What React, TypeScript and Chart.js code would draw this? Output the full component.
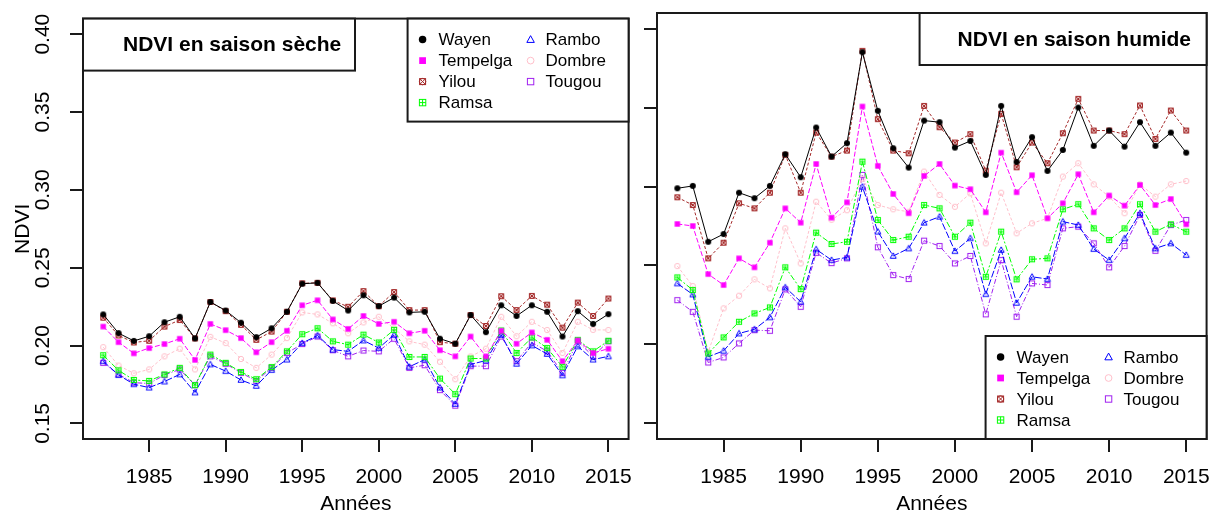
import React, { useEffect, useRef } from 'react';
import { Chart, registerables } from 'chart.js';

Chart.register(...registerables);

// ---------------- DATA ----------------
const YEARS = [1982, 1983, 1984, 1985, 1986, 1987, 1988, 1989, 1990, 1991, 1992, 1993, 1994, 1995, 1996, 1997, 1998, 1999,
  2000, 2001, 2002, 2003, 2004, 2005, 2006, 2007, 2008, 2009, 2010, 2011, 2012, 2013, 2014, 2015];
const X_TICKS = [1985, 1990, 1995, 2000, 2005, 2010, 2015];
const Y_TICKS = [0.15, 0.2, 0.25, 0.3, 0.35, 0.4];
const SITES = ['Wayen', 'Tempelga', 'Yilou', 'Ramsa', 'Rambo', 'Dombre', 'Tougou'];

// Saison sèche
const DRY_WAYEN = [0.220, 0.208, 0.203, 0.206, 0.215, 0.2185, 0.2046, 0.228, 0.2225, 0.2147, 0.2054, 0.2111, 0.2217, 0.2397, 0.2403, 0.2287, 0.2225, 0.2323,
  0.2253, 0.2308, 0.2213, 0.2217, 0.2044, 0.2012, 0.2196, 0.2086, 0.2259, 0.219, 0.2259, 0.2217, 0.2058, 0.2221, 0.2139, 0.2202];
const DRY_TEMPELGA = [0.2122, 0.2022, 0.195, 0.1984, 0.201, 0.2044, 0.1908, 0.2139, 0.2099, 0.2048, 0.1957, 0.2022, 0.2095, 0.2259, 0.2291, 0.2168, 0.2107, 0.219,
  0.2139, 0.2153, 0.2079, 0.2095, 0.197, 0.1931, 0.2058, 0.1931, 0.2095, 0.2012, 0.2084, 0.2037, 0.19, 0.2033, 0.1952, 0.198];
const DRY_YILOU = [0.2179, 0.2065, 0.202, 0.2031, 0.2122, 0.2164, 0.2046, 0.228, 0.2221, 0.2133, 0.2037, 0.209, 0.2217, 0.240, 0.2403, 0.229, 0.2249, 0.235,
  0.2253, 0.2344, 0.2228, 0.2228, 0.2022, 0.2012, 0.2196, 0.2126, 0.2317, 0.2228, 0.2319, 0.2263, 0.2115, 0.2276, 0.219, 0.2302];
const DRY_RAMSA = [0.1938, 0.1841, 0.1779, 0.1773, 0.1815, 0.1857, 0.1746, 0.1942, 0.1889, 0.183, 0.1784, 0.1862, 0.1963, 0.2073, 0.2111, 0.2027, 0.2006, 0.207,
  0.202, 0.2101, 0.1927, 0.1927, 0.1788, 0.1688, 0.1917, 0.1917, 0.2097, 0.1952, 0.2052, 0.1984, 0.1864, 0.2037, 0.1963, 0.2031];
const DRY_RAMBO = [0.19, 0.1811, 0.1752, 0.173, 0.1769, 0.1815, 0.1699, 0.1879, 0.1836, 0.1779, 0.1741, 0.1843, 0.191, 0.2016, 0.2065, 0.1974, 0.1963, 0.2033,
  0.1984, 0.2069, 0.1864, 0.191, 0.173, 0.1625, 0.1879, 0.1904, 0.2069, 0.1883, 0.2001, 0.1946, 0.1809, 0.1995, 0.191, 0.1931];
const DRY_DOMBRE = [0.199, 0.1872, 0.1822, 0.1847, 0.1931, 0.198, 0.1847, 0.2056, 0.2016, 0.1914, 0.1857, 0.1942, 0.2048, 0.2213, 0.22, 0.2143, 0.2079, 0.2149,
  0.2185, 0.2111, 0.2027, 0.2006, 0.1896, 0.1784, 0.193, 0.198, 0.2185, 0.206, 0.2153, 0.21, 0.1952, 0.2153, 0.2101, 0.21];
const DRY_TOUGOU = [0.1889, 0.1815, 0.1762, 0.1756, 0.1811, 0.1847, 0.1746, 0.1931, 0.1883, 0.1825, 0.1773, 0.1857, 0.1952, 0.201, 0.2058, 0.197, 0.1931, 0.1968,
  0.1963, 0.2044, 0.1857, 0.1874, 0.1714, 0.1614, 0.1868, 0.1868, 0.2058, 0.19, 0.202, 0.1963, 0.1825, 0.2027, 0.1931, 0.2027];

// Saison humide
const WET_WAYEN = [0.2989, 0.3004, 0.265, 0.2699, 0.2961, 0.2926, 0.3004, 0.3205, 0.3059, 0.3374, 0.319, 0.3275, 0.3852, 0.348, 0.3243, 0.312, 0.3418, 0.3408,
  0.3247, 0.3289, 0.3074, 0.3511, 0.3156, 0.3313, 0.3099, 0.3232, 0.3501, 0.3258, 0.3355, 0.3253, 0.3408, 0.3258, 0.3342, 0.3215];
const WET_TEMPELGA = [0.2763, 0.275, 0.2445, 0.2376, 0.2545, 0.2488, 0.2644, 0.2862, 0.2771, 0.3143, 0.2803, 0.29, 0.3507, 0.3131, 0.2953, 0.2831, 0.3067, 0.3143,
  0.3006, 0.2983, 0.2837, 0.3215, 0.2964, 0.3072, 0.2799, 0.2894, 0.3078, 0.2837, 0.2943, 0.2879, 0.301, 0.2883, 0.2921, 0.2761];
const WET_YILOU = [0.2932, 0.2883, 0.2545, 0.2644, 0.2894, 0.2862, 0.2961, 0.3201, 0.2961, 0.3342, 0.319, 0.3228, 0.386, 0.3427, 0.3228, 0.3211, 0.3511, 0.3376,
  0.3279, 0.3332, 0.3101, 0.3461, 0.3122, 0.3279, 0.3148, 0.3338, 0.3556, 0.3355, 0.3355, 0.3332, 0.3514, 0.3302, 0.3482, 0.3355];
const WET_RAMSA = [0.2424, 0.2344, 0.1942, 0.2044, 0.2143, 0.2196, 0.2234, 0.2488, 0.235, 0.2708, 0.2636, 0.265, 0.3158, 0.2788, 0.2661, 0.2682, 0.2883, 0.2862,
  0.2682, 0.2771, 0.2428, 0.2714, 0.2412, 0.2539, 0.2545, 0.2856, 0.2888, 0.2735, 0.2661, 0.2735, 0.2888, 0.2714, 0.2761, 0.2714];
const WET_RAMBO = [0.2386, 0.2316, 0.1921, 0.1959, 0.2069, 0.2095, 0.2171, 0.2361, 0.227, 0.2602, 0.2534, 0.2551, 0.2999, 0.2714, 0.256, 0.2608, 0.2771, 0.2809,
  0.2591, 0.2672, 0.2318, 0.2598, 0.2263, 0.2428, 0.2414, 0.2778, 0.2756, 0.2604, 0.2534, 0.2672, 0.2831, 0.2608, 0.264, 0.2566];
const WET_DOMBRE = [0.2496, 0.2369, 0.1952, 0.2228, 0.2308, 0.2412, 0.2355, 0.2735, 0.2513, 0.2904, 0.279, 0.285, 0.305, 0.2883, 0.2856, 0.284, 0.3095, 0.2947,
  0.2872, 0.2957, 0.264, 0.2961, 0.2704, 0.2767, 0.2799, 0.3063, 0.3148, 0.3014, 0.2936, 0.2831, 0.3014, 0.2936, 0.3014, 0.3035];
const WET_TOUGOU = [0.228, 0.2206, 0.1885, 0.1917, 0.2006, 0.209, 0.2086, 0.2348, 0.2238, 0.258, 0.2515, 0.2545, 0.3074, 0.2615, 0.2439, 0.2414, 0.2657, 0.2623,
  0.2513, 0.256, 0.219, 0.2534, 0.2175, 0.2386, 0.2376, 0.2735, 0.2746, 0.264, 0.2488, 0.2623, 0.282, 0.2593, 0.2756, 0.2788];

const DRY_SERIES = [DRY_WAYEN, DRY_TEMPELGA, DRY_YILOU, DRY_RAMSA, DRY_RAMBO, DRY_DOMBRE, DRY_TOUGOU];
const WET_SERIES = [WET_WAYEN, WET_TEMPELGA, WET_YILOU, WET_RAMSA, WET_RAMBO, WET_DOMBRE, WET_TOUGOU];

const TITLE_DRY = 'NDVI en saison sèche';
const TITLE_WET = 'NDVI en saison humide';
const X_TITLE = 'Années';
const Y_TITLE = 'NDVI';

// ---------------- STYLE ----------------
const COLORS = ['#000000', '#FF00FF', '#A52A2A', '#00FF00', '#0000FF', '#FFC0CB', '#A020F0'];
const MARKERS = ['dot', 'fsquare', 'circlex', 'squareplus', 'triangle', 'circle', 'square'];
const DASHES: number[][] = [[], [5, 2], [3, 2], [6, 2, 2, 2], [7, 2], [3, 2], [5, 2, 1, 2]];
const FONT = '"Liberation Sans", Arial, Helvetica, sans-serif';

function drawMarker(ctx: CanvasRenderingContext2D, kind: string, color: string, x: number, y: number, s: number) {
  ctx.save();
  ctx.strokeStyle = color;
  ctx.fillStyle = color;
  ctx.lineWidth = 1;
  const h = s / 2;
  switch (kind) {
    case 'dot':
      ctx.beginPath(); ctx.arc(x, y, h, 0, Math.PI * 2); ctx.fill(); break;
    case 'fsquare':
      ctx.fillRect(x - h * 0.9, y - h * 0.9, h * 1.8, h * 1.8); break;
    case 'circlex': {
      ctx.beginPath(); ctx.arc(x, y, h * 0.85, 0, Math.PI * 2); ctx.stroke();
      const d = h * 0.85 * Math.SQRT1_2;
      ctx.strokeRect(x - h * 0.8, y - h * 0.8, h * 1.6, h * 1.6);
      ctx.beginPath(); ctx.moveTo(x - d, y - d); ctx.lineTo(x + d, y + d);
      ctx.moveTo(x - d, y + d); ctx.lineTo(x + d, y - d); ctx.stroke();
      break;
    }
    case 'squareplus':
      ctx.strokeRect(x - h * 0.85, y - h * 0.85, h * 1.7, h * 1.7);
      ctx.beginPath(); ctx.moveTo(x - h * 0.85, y); ctx.lineTo(x + h * 0.85, y);
      ctx.moveTo(x, y - h * 0.85); ctx.lineTo(x, y + h * 0.85); ctx.stroke();
      break;
    case 'triangle':
      ctx.beginPath(); ctx.moveTo(x, y - h * 1.05); ctx.lineTo(x + h * 1.0, y + h * 0.75);
      ctx.lineTo(x - h * 1.0, y + h * 0.75); ctx.closePath(); ctx.stroke(); break;
    case 'circle':
      ctx.beginPath(); ctx.arc(x, y, h * 0.9, 0, Math.PI * 2); ctx.stroke(); break;
    case 'square':
      ctx.strokeRect(x - h * 0.85, y - h * 0.85, h * 1.7, h * 1.7); break;
  }
  ctx.restore();
}

function markerImage(kind: string, color: string, s: number): HTMLCanvasElement {
  const c = document.createElement('canvas');
  c.width = 14; c.height = 14;
  const ctx = c.getContext('2d')!;
  drawMarker(ctx, kind, color, 7, 7, s);
  return c;
}

const panelDecor = {
  id: 'panelDecor',
  afterDraw(chart: any, _args: any, opts: any) {
    const { ctx, chartArea: ca } = chart;
    ctx.save();
    ctx.strokeStyle = '#1a1a1a';
    ctx.lineWidth = 2;
    // plot box
    ctx.strokeRect(ca.left, ca.top, ca.right - ca.left, ca.bottom - ca.top);

    // title box
    const tw = opts.titleWidth;
    const tx = opts.titleSide === 'left' ? ca.left : ca.right - tw;
    const ty = ca.top;
    ctx.fillStyle = '#fff';
    ctx.fillRect(tx, ty, tw, 52);
    ctx.strokeRect(tx, ty, tw, 52);
    ctx.fillStyle = '#000';
    ctx.font = `bold 21px ${FONT}`;
    ctx.textBaseline = 'middle';
    ctx.textAlign = 'left';
    ctx.fillText(opts.title, tx + opts.titleIndent, ty + 27);

    // legend box
    const lw = 221, lh = 103;
    const lx = ca.right - lw;
    const ly = opts.legendSide === 'top' ? ca.top : ca.bottom - lh;
    ctx.fillStyle = '#fff';
    ctx.fillRect(lx, ly, lw, lh);
    ctx.strokeRect(lx, ly, lw, lh);
    ctx.font = `17px ${FONT}`;
    SITES.forEach((name, i) => {
      const col = i < 4 ? 0 : 1;
      const row = i < 4 ? i : i - 4;
      const sx = lx + (col === 0 ? 15 : 123);
      const txx = lx + (col === 0 ? 31 : 138);
      const sy = ly + 21 + row * 21;
      drawMarker(ctx, MARKERS[i], COLORS[i], sx, sy, 7.5);
      ctx.fillStyle = '#000';
      ctx.fillText(name, txx, sy + 1);
    });
    ctx.restore();
  },
};

function buildConfig(series: number[][], side: 'left' | 'right'): any {
  const isLeft = side === 'left';
  return {
    type: 'line',
    data: {
      datasets: SITES.map((name, i) => ({
        label: name,
        data: YEARS.map((yr, k) => ({ x: yr, y: series[i][k] })),
        borderColor: COLORS[i],
        backgroundColor: COLORS[i],
        borderWidth: 1,
        borderDash: DASHES[i],
        pointStyle: markerImage(MARKERS[i], COLORS[i], 6),
        pointRadius: 3,
        pointHoverRadius: 3,
        fill: false,
        tension: 0,
      })),
    },
    options: {
      animation: false,
      responsive: false,
      events: [],
      layout: { padding: { top: 13, right: isLeft ? 7 : 11, bottom: 0, left: 0 } },
      plugins: {
        legend: { display: false },
        tooltip: { enabled: false },
        panelDecor: isLeft
          ? { title: TITLE_DRY, titleSide: 'left', titleWidth: 272, titleIndent: 40, legendSide: 'top' }
          : { title: TITLE_WET, titleSide: 'right', titleWidth: 287, titleIndent: 38, legendSide: 'bottom' },
      },
      scales: {
        x: {
          type: 'linear',
          min: 1980.68,
          max: 2016.32,
          afterBuildTicks: (s: any) => { s.ticks = X_TICKS.map((v) => ({ value: v })); },
          afterFit: (s: any) => { s.height = 76; },
          grid: { drawOnChartArea: false, drawTicks: true, tickLength: 13, color: '#1a1a1a', lineWidth: 2 },
          border: { display: false },
          ticks: {
            autoSkip: false, maxRotation: 0, minRotation: 0, padding: 13, color: '#000',
            font: { family: FONT, size: 21 },
            callback: (v: number) => String(v),
          },
          title: {
            display: true, text: X_TITLE, color: '#000',
            font: { family: FONT, size: 21, lineHeight: 1 },
            padding: { top: 0, bottom: 0 },
          },
        },
        y: {
          type: 'linear',
          min: 0.14,
          max: 0.41,
          afterBuildTicks: (s: any) => { s.ticks = Y_TICKS.map((v) => ({ value: v })); },
          afterFit: (s: any) => { s.width = isLeft ? 83 : 17; },
          grid: { drawOnChartArea: false, drawTicks: true, tickLength: 13, color: '#1a1a1a', lineWidth: 2 },
          border: { display: false },
          ticks: {
            display: isLeft,
            minRotation: 90, maxRotation: 90, crossAlign: 'center', padding: 6, color: '#000',
            font: { family: FONT, size: 21 },
            callback: (v: number) => v.toFixed(2),
          },
          title: {
            display: isLeft, text: Y_TITLE, color: '#000',
            font: { family: FONT, size: 21, lineHeight: 1 },
            padding: { top: 13, bottom: 0 },
          },
        },
      },
    },
    plugins: [panelDecor],
  };
}

function Panel({ series, side, left, width }: { series: number[][]; side: 'left' | 'right'; left: number; width: number }) {
  const ref = useRef<HTMLCanvasElement | null>(null);
  useEffect(() => {
    if (!ref.current) return;
    const chart = new Chart(ref.current, buildConfig(series, side));
    return () => chart.destroy();
  }, [series, side]);
  return (
    <canvas
      ref={ref}
      width={width}
      height={515}
      style={{ position: 'absolute', left, top: 0, width, height: 515 }}
    />
  );
}

export default function App() {
  return (
    <div style={{ position: 'absolute', left: 0, top: 0, width: 1223, height: 515, background: '#fff', overflow: 'hidden' }}>
      <Panel series={DRY_SERIES} side="left" left={0} width={645} />
      <Panel series={WET_SERIES} side="right" left={640} width={583} />
    </div>
  );
}
